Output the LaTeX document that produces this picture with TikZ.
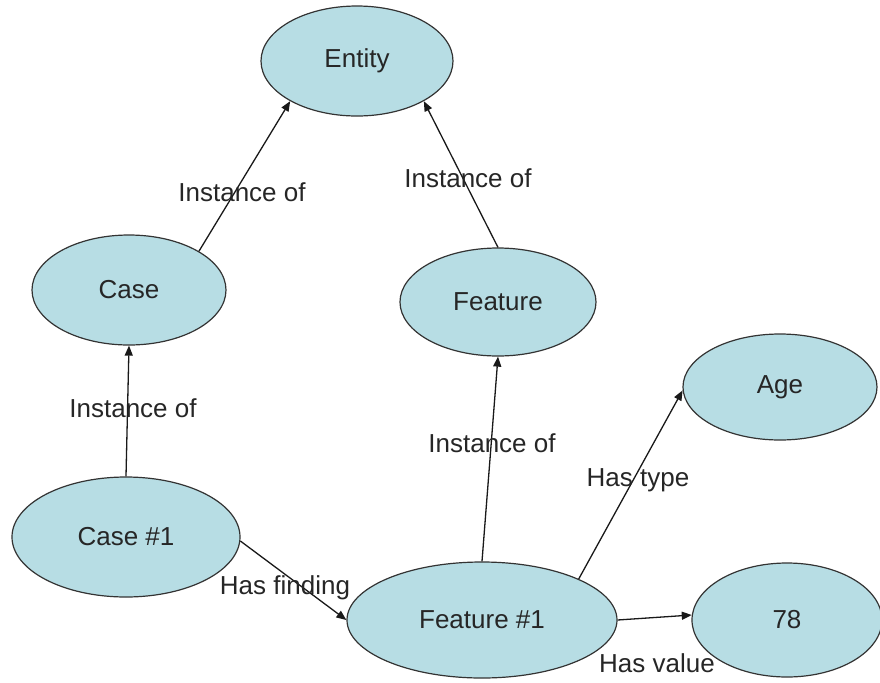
\documentclass[tikz,border=0pt]{standalone}
\usepackage{fontspec}
\setmainfont{Liberation Sans}
\usetikzlibrary{shapes.geometric, arrows.meta}
\definecolor{nodefill}{RGB}{183,221,228}

\begin{document}
\begin{tikzpicture}[
    x=0.5pt,
    y=-0.5pt,
    font=\fontsize{13}{15}\selectfont,
    >={Triangle[length=5pt, width=4pt]},
    concept/.style={ellipse, draw=black!80, line width=0.6pt, fill=nodefill, inner sep=0pt, text=black!85},
    link/.style={->, draw=black!90, line width=0.65pt},
    rel/.style={text=black!85, inner sep=1pt}
]
    \useasboundingbox (0,0) rectangle (880,682);

    % --- Concepts ---
    \node[concept, minimum width=96pt, minimum height=55pt] (entity) at (357,61) {Entity};
    \node[concept, minimum width=97pt, minimum height=55pt] (case) at (129,290) {Case};
    \node[concept, minimum width=98pt, minimum height=54pt] (feature) at (498,302) {Feature};
    \node[concept, minimum width=97pt, minimum height=53pt] (age) at (780,387) {Age};
    \node[concept, minimum width=114pt, minimum height=60pt] (caseone) at (126,537) {Case \#1};
    \node[concept, minimum width=135pt, minimum height=58pt] (featureone) at (482,620) {Feature \#1};
    \node[concept, minimum width=95pt, minimum height=57pt] (value) at (787,620) {78};

    % --- Relations ---
    \draw[link] (case.29) -- (entity.211);
    \draw[link] (feature.90) -- (entity.329);
    \draw[link] (caseone.90) -- (case.270);
    \draw[link] (featureone.90) -- (feature.270);
    \draw[link] (featureone.23) -- (age.182);
    \draw[link] (caseone.358) -- (featureone.180);
    \draw[link] (featureone.0) -- (value.177);

    % --- Relation labels ---
    \node[rel] (instcase) at (242,192) {Instance of};
    \node[rel] (instfeature) at (468,178) {Instance of};
    \node[rel] (instcaseone) at (133,408) {Instance of};
    \node[rel] (instfeatureone) at (492,443) {Instance of};
    \node[rel] (hastype) at (638,480) {Has type};
    \node[rel] (hasfinding) at (285,588) {Has finding};
    \node[rel] (hasvalue) at (657,663) {Has value};
\end{tikzpicture}
\end{document}
